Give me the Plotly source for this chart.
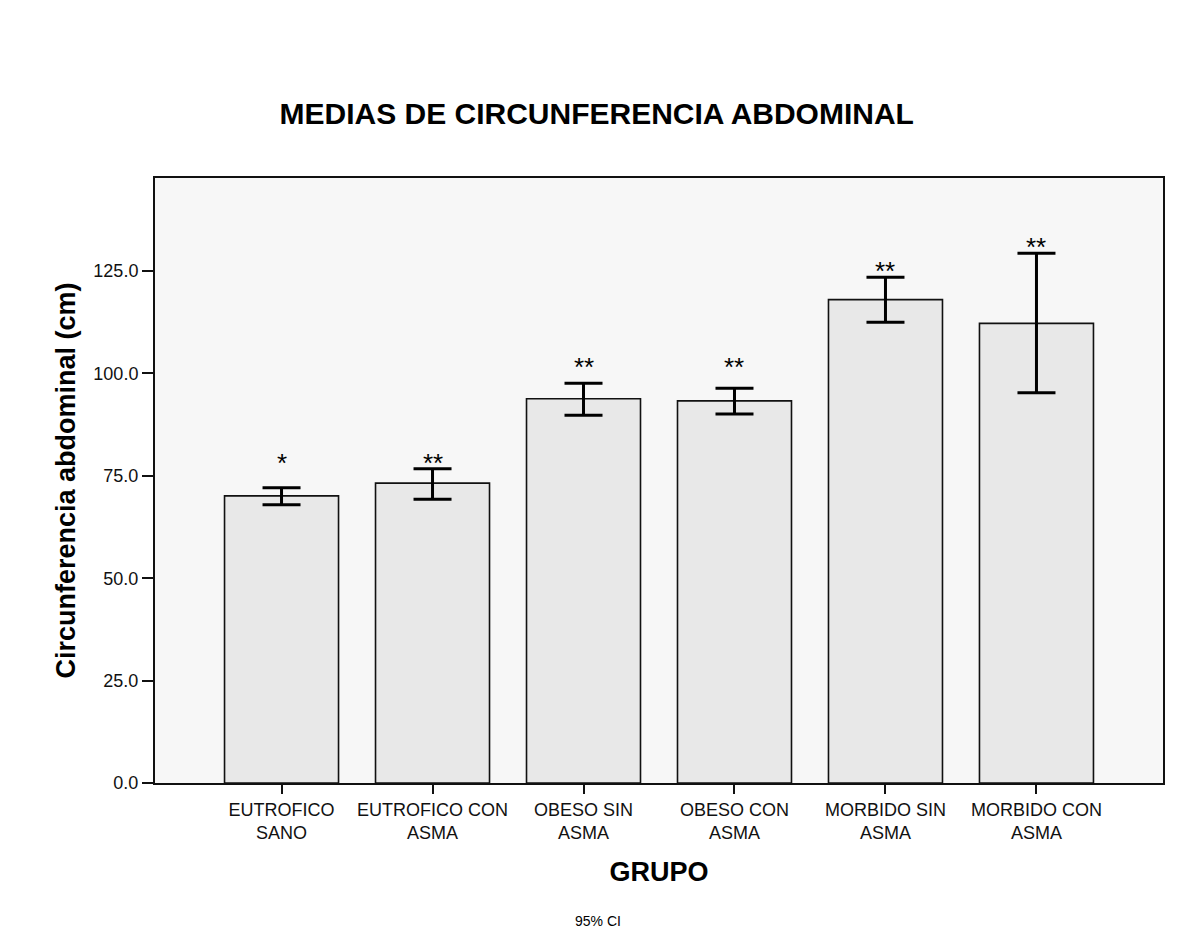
import plotly.graph_objects as go

# Group means of abdominal circumference with 95% confidence limits
groups = ["EUTROFICO SANO", "EUTROFICO CON ASMA", "OBESO SIN ASMA",
          "OBESO CON ASMA", "MORBIDO SIN ASMA", "MORBIDO CON ASMA"]
tick_text = ["EUTROFICO<br>SANO", "EUTROFICO CON<br>ASMA", "OBESO SIN<br>ASMA",
             "OBESO CON<br>ASMA", "MORBIDO SIN<br>ASMA", "MORBIDO CON<br>ASMA"]
means = [70.1, 73.2, 93.8, 93.3, 118.0, 112.2]
ci_upper = [72.1, 76.7, 97.6, 96.4, 123.5, 129.3]
ci_lower = [67.9, 69.3, 89.8, 90.1, 112.5, 95.3]
marks = ["*", "**", "**", "**", "**", "**"]
mark_y = [78.9, 78.9, 102.3, 102.3, 125.7, 131.6]

err_plus = [u - m for u, m in zip(ci_upper, means)]
err_minus = [m - l for m, l in zip(means, ci_lower)]

FONT = "Liberation Sans"

fig = go.Figure()
fig.add_trace(go.Bar(
    x=groups, y=means, width=0.755,
    marker=dict(color="#e8e8e8", line=dict(color="#111111", width=1.6)),
    error_y=dict(type="data", symmetric=False, array=err_plus, arrayminus=err_minus,
                 color="#000000", thickness=3, width=19),
    showlegend=False, hoverinfo="skip",
))

# significance marks above each group
for g, m, yy in zip(groups, marks, mark_y):
    fig.add_annotation(x=g, y=yy, text=m, showarrow=False, yanchor="middle",
                       yshift=-3, font=dict(family=FONT, size=26, color="#000000"))

fig.add_annotation(text="95% CI", xref="paper", yref="paper", x=0.439, y=-0.228,
                   xanchor="center", yanchor="middle", showarrow=False,
                   font=dict(family=FONT, size=14, color="#000000"))

fig.update_layout(
    width=1184, height=946,
    margin=dict(l=155, r=21, t=178, b=163),
    paper_bgcolor="#ffffff", plot_bgcolor="#f7f7f7",
    title=dict(text="<b>MEDIAS DE CIRCUNFERENCIA ABDOMINAL</b>", x=0.504, xanchor="center",
               y=0.8805, yanchor="middle",
               font=dict(family=FONT, size=30, color="#000000")),
    font=dict(family=FONT, color="#000000"),
)
fig.update_xaxes(
    tickvals=groups, ticktext=tick_text, range=[-0.838, 5.838],
    showline=True, linecolor="#111111", linewidth=2, mirror=True,
    ticks="outside", ticklen=9, tickwidth=2, tickcolor="#111111",
    tickfont=dict(family=FONT, size=18, color="#111111"),
    showgrid=False, zeroline=False,
    title=dict(text="<b>GRUPO</b>", standoff=20,
               font=dict(family=FONT, size=27, color="#000000")),
)
fig.update_yaxes(
    range=[0, 147.7], tickvals=[0, 25, 50, 75, 100, 125], tickformat=".1f",
    showline=True, linecolor="#111111", linewidth=2, mirror=True,
    ticks="outside", ticklen=11, tickwidth=2, tickcolor="#111111",
    tickfont=dict(family=FONT, size=18, color="#111111"),
    showgrid=False, zeroline=False,
    title=dict(text="<b>Circunferencia abdominal (cm)</b>", standoff=10,
               font=dict(family=FONT, size=27, color="#000000")),
)

fig.write_html("out.html")
